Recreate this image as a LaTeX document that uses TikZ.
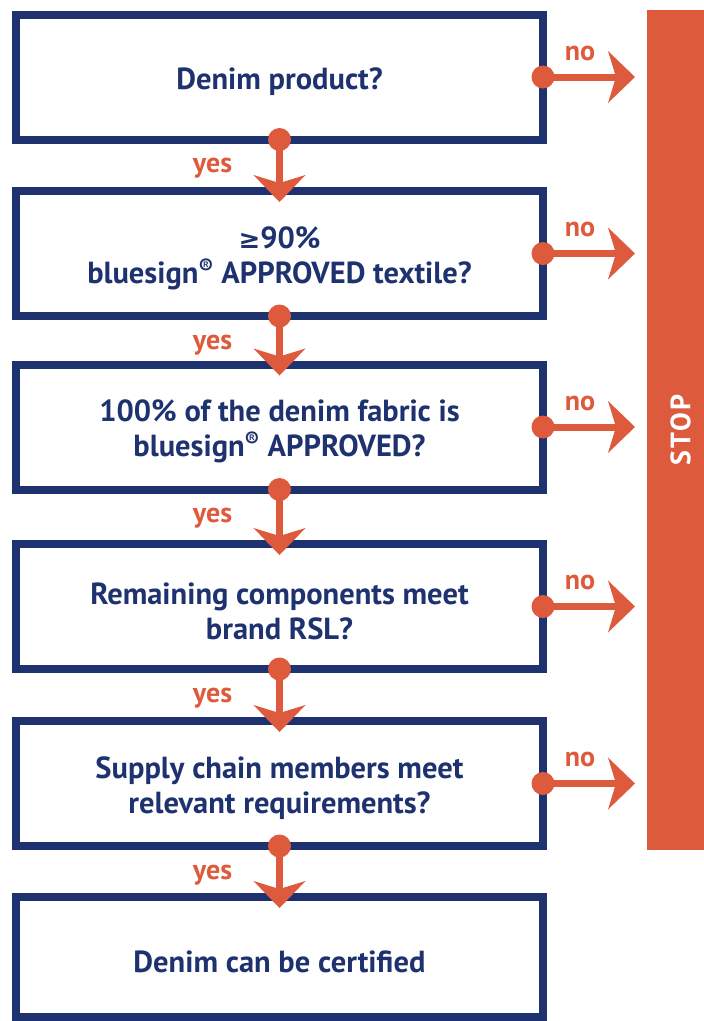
\documentclass[tikz,border=0pt]{standalone}
\usepackage{fontspec}
\setmainfont{PT Sans}
\newfontfamily\symfont{DejaVu Sans}
\usetikzlibrary{arrows.meta,calc}
\definecolor{navy}{RGB}{30,50,112}
\definecolor{org}{RGB}{221,90,60}
\newcommand\tstrut{\rule{0pt}{31pt}}
\begin{document}
\begin{tikzpicture}[x=1pt,y=-1pt,
 box/.style={draw=navy, line width=8pt, minimum width=527pt, minimum height=125pt, outer sep=0pt, inner sep=0pt, align=center, text=navy, font=\fontsize{30.5}{35}\selectfont\bfseries},
 conn/.style={draw=org, line width=7pt, -{Stealth[length=27pt,width=52pt,inset=8pt,line width=0pt]}},
 down/.style={conn, shorten >=-11pt},
 side/.style={conn, shorten >=12pt},
 dot/.style={fill=org},
 lab/.style={text=org, anchor=base, font=\fontsize{28}{28}\selectfont\bfseries}]
\useasboundingbox (0,0) rectangle (704,1021);
\node[box] (b1) at (279.5,77) {\tstrut Denim product?};
\node[box] (b2) at (279.5,253.5) {\tstrut{\symfont\fontsize{26}{26}\selectfont ≥}90\%\\bluesign\textsuperscript{®} APPROVED textile?};
\node[box] (b3) at (279.5,427) {\tstrut 100\% of the denim fabric is\\bluesign\textsuperscript{®} APPROVED?};
\node[box] (b4) at (279.5,606.5) {\tstrut Remaining components meet\\brand RSL?};
\node[box] (b5) at (279.5,783.5) {\tstrut Supply chain members meet\\relevant requirements?};
\node[box, minimum height=120pt] (b6) at (279.5,957) {\tstrut Denim can be certified};
\node[fill=org, minimum width=57pt, minimum height=840pt, inner sep=0pt, outer sep=0pt] (stop) at (675.5,430) {};
\node[text=white, rotate=90, font=\fontsize{28}{28}\selectfont\bfseries\addfontfeature{LetterSpace=8}] (stoplab) at ($(stop.center)+(5,0)$) {STOP};
\foreach \a/\b in {b1/b2,b2/b3,b3/b4,b4/b5,b5/b6}{
  \draw[down] (\a.south) -- (\b.north);
  \fill[dot] (\a.south) circle (11.5pt);
  \node[lab] at ($(\a.south)+(-67,33)$) {yes};
}
\foreach \a in {b1,b2,b3,b4,b5}{
  \draw[side] (\a.east) -- (\a.east -| stop.west);
  \fill[dot] (\a.east) circle (11.5pt);
  \node[lab] at ($(\a.east)+(37,-17)$) {no};
}
\end{tikzpicture}
\end{document}
